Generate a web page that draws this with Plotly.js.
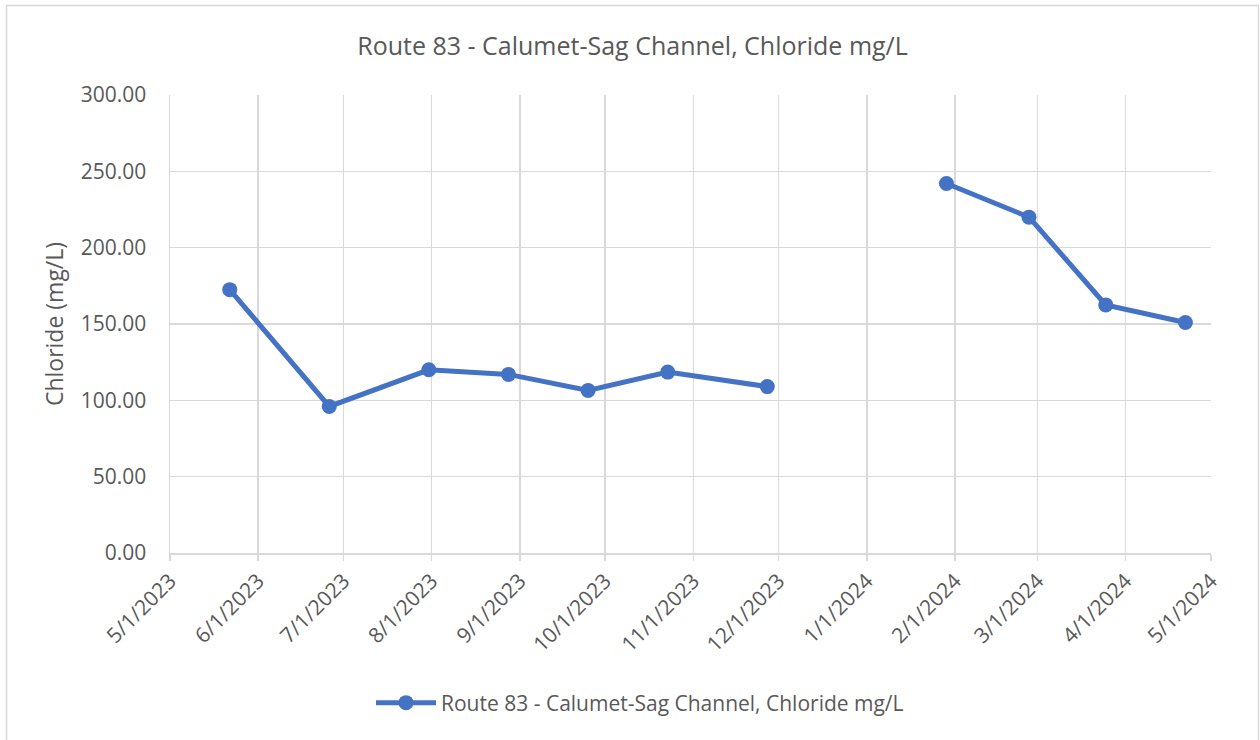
<!DOCTYPE html>
<html>
<head>
<meta charset="utf-8">
<script src="https://cdn.plot.ly/plotly-3.0.1.min.js"></script>
<style>html,body{margin:0;padding:0;background:#fff;}#chart{width:1260px;height:740px;}</style>
</head>
<body>
<div id="chart"></div>
<script>
// Sample dates (null value marks the gap in the series)
const sampleDates = [
  "2023-05-22", "2023-06-26", "2023-07-31", "2023-08-28", "2023-09-25",
  "2023-10-23", "2023-11-27", "2023-12-26", "2024-01-29", "2024-02-27",
  "2024-03-25", "2024-04-22"
];
const chlorideMgL = [172.5, 96, 120, 117, 106.5, 118.5, 109, null, 242, 220, 162.5, 151];
const seriesName = "Route 83 - Calumet-Sag Channel, Chloride mg/L";
const chartTitle = "Route 83 - Calumet-Sag Channel, Chloride mg/L";
const yAxisTitle = "Chloride (mg/L)";
const xTickDates = [
  "2023-05-01", "2023-06-01", "2023-07-01", "2023-08-01", "2023-09-01", "2023-10-01",
  "2023-11-01", "2023-12-01", "2024-01-01", "2024-02-01", "2024-03-01", "2024-04-01", "2024-05-01"
];
const xTickLabels = [
  "5/1/2023", "6/1/2023", "7/1/2023", "8/1/2023", "9/1/2023", "10/1/2023",
  "11/1/2023", "12/1/2023", "1/1/2024", "2/1/2024", "3/1/2024", "4/1/2024", "5/1/2024"
];
const yTickVals = [0, 50, 100, 150, 200, 250, 300];

const FONT = "Open Sans, Noto Sans, sans-serif";
const GRAY = "#595959";
const GRID = "#d9d9d9";

const trace = {
  x: sampleDates,
  y: chlorideMgL,
  type: "scatter",
  mode: "lines+markers",
  name: seriesName,
  connectgaps: false,
  line: {color: "#4472C4", width: 5},
  marker: {color: "#4472C4", size: 15}
};

const layout = {
  width: 1260,
  height: 740,
  margin: {l: 170, r: 49, t: 95, b: 187},
  paper_bgcolor: "#fff",
  plot_bgcolor: "#fff",
  font: {family: FONT, color: GRAY},
  title: {
    text: chartTitle,
    font: {family: FONT, size: 25, color: GRAY},
    x: 0.502, xref: "container", xanchor: "center",
    y: 0.938, yref: "container", yanchor: "middle"
  },
  xaxis: {
    type: "date",
    range: ["2023-05-01", "2024-05-01"],
    tickmode: "array",
    tickvals: xTickDates,
    ticktext: xTickLabels,
    tickangle: -45,
    tickfont: {family: FONT, size: 21, color: GRAY},
    showgrid: true,
    gridcolor: GRID,
    gridwidth: 1.5,
    showline: true,
    linecolor: GRID,
    linewidth: 1.5,
    ticks: "outside",
    ticklen: 6,
    tickcolor: GRID,
    tickwidth: 1.5,
    zeroline: false,
    fixedrange: true
  },
  yaxis: {
    range: [0, 300],
    tickmode: "array",
    tickvals: yTickVals,
    tickformat: ".2f",
    tickfont: {family: FONT, size: 21, color: GRAY},
    showgrid: true,
    gridcolor: GRID,
    gridwidth: 1.5,
    showline: true,
    linecolor: GRID,
    linewidth: 1.5,
    ticks: "",
    ticklabelstandoff: 18,
    zeroline: false,
    automargin: false,
    title: {text: yAxisTitle, font: {family: FONT, size: 23, color: GRAY}, standoff: 10},
    fixedrange: true
  },
  showlegend: true,
  legend: {
    orientation: "h",
    x: 0.4515, xanchor: "center",
    y: -0.3275, yanchor: "middle",
    font: {family: FONT, size: 21, color: GRAY},
    itemwidth: 60
  },
  shapes: [{
    type: "rect", xref: "paper", yref: "paper",
    x0: -0.157, x1: 1.0456, y0: -0.45, y1: 1.1954,
    line: {color: GRID, width: 1.5}, fillcolor: "rgba(0,0,0,0)", layer: "below"
  }]
};

Plotly.newPlot("chart", [trace], layout, {staticPlot: true, displayModeBar: false});
</script>
</body>
</html>
